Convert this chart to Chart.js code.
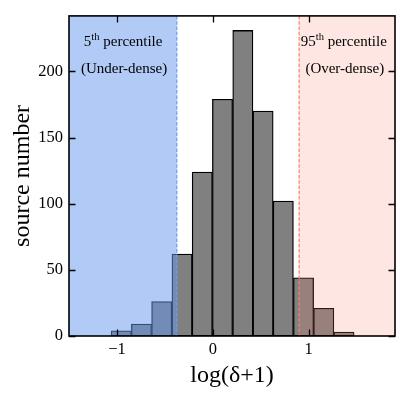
<!DOCTYPE html>
<html>
<head>
<meta charset="utf-8">
<script src="https://cdn.jsdelivr.net/npm/chart.js@4"></script>
<style>
  html, body { margin: 0; padding: 0; background: #fff; }
  #wrap { width: 406px; height: 398px; }
</style>
</head>
<body>
<div id="wrap"><canvas id="histo" width="406" height="398"></canvas></div>
<script>
// histogram bins (centres in log(delta+1)) and counts
const binCenters = [-0.955, -0.744, -0.533, -0.321, -0.110, 0.101, 0.313, 0.524, 0.735, 0.946, 1.157, 1.368];
const counts = [4, 9, 26, 62, 124, 179, 231, 170, 102, 44, 21, 3];

const xTicks = [-1, 0, 1];
const yTicks = [0, 50, 100, 150, 200];

// percentile cuts
const lowCut = -0.375;   // 5th
const highCut = 0.9;     // 95th

const SERIF = '"Liberation Serif", "DejaVu Serif", serif';

// shaded regions, dashed cut lines, framed box with inward ticks, labels
const decorPlugin = {
    id: 'decor',
    afterDatasetsDraw(chart) {
        const { ctx, chartArea: a, scales } = chart;
        const x = scales.x, y = scales.y;
        const xl = x.getPixelForValue(lowCut);
        const xr = x.getPixelForValue(highCut);
        const h = a.bottom - a.top;

        ctx.save();
        ctx.fillStyle = 'rgba(100, 149, 237, 0.5)';
        ctx.fillRect(a.left, a.top, xl - a.left, h);
        ctx.fillStyle = 'rgba(250, 128, 114, 0.2)';
        ctx.fillRect(xr, a.top, a.right - xr, h);

        ctx.setLineDash([3.5, 1.8]);
        ctx.lineWidth = 1.2;
        ctx.strokeStyle = '#6d9cf0';
        ctx.beginPath(); ctx.moveTo(xl, a.top); ctx.lineTo(xl, a.bottom); ctx.stroke();
        ctx.strokeStyle = '#f5806f';
        ctx.beginPath(); ctx.moveTo(xr, a.top); ctx.lineTo(xr, a.bottom); ctx.stroke();
        ctx.setLineDash([]);

        // inward ticks on all four sides
        ctx.strokeStyle = '#000';
        ctx.lineWidth = 1.3;
        const tl = 6.5;
        ctx.beginPath();
        xTicks.forEach(v => {
            const px = Math.round(x.getPixelForValue(v)) + 0.5;
            ctx.moveTo(px, a.bottom); ctx.lineTo(px, a.bottom - tl);
            ctx.moveTo(px, a.top); ctx.lineTo(px, a.top + tl);
        });
        yTicks.forEach(v => {
            const py = Math.round(y.getPixelForValue(v)) + 0.5;
            ctx.moveTo(a.left, py); ctx.lineTo(a.left + tl, py);
            ctx.moveTo(a.right, py); ctx.lineTo(a.right - tl, py);
        });
        ctx.stroke();

        ctx.lineWidth = 1.6;
        ctx.strokeRect(a.left, a.top, a.right - a.left, h);

        // annotations
        ctx.fillStyle = '#000';
        ctx.textBaseline = 'middle';
        const w = a.right - a.left;
        drawSup(ctx, '5', 'th', ' percentile', a.left + 0.166 * w, a.top + 26);
        drawSup(ctx, '95', 'th', ' percentile', a.left + 0.843 * w, a.top + 26);
        ctx.font = '15px ' + SERIF;
        ctx.textAlign = 'center';
        ctx.fillText('(Under-dense)', a.left + 0.169 * w, a.top + 53);
        ctx.fillText('(Over-dense)', a.left + 0.846 * w, a.top + 53);
        ctx.restore();
    }
};

function drawSup(ctx, base, sup, rest, cx, cy) {
    const big = '15px ' + SERIF, small = '10.5px ' + SERIF;
    ctx.font = big;
    const w1 = ctx.measureText(base).width;
    const w3 = ctx.measureText(rest).width;
    ctx.font = small;
    const w2 = ctx.measureText(sup).width;
    let px = cx - (w1 + w2 + w3) / 2;
    ctx.textAlign = 'left';
    ctx.font = big;
    ctx.fillText(base, px, cy);
    px += w1;
    ctx.font = small;
    ctx.fillText(sup, px, cy - 5);
    px += w2;
    ctx.font = big;
    ctx.fillText(rest, px, cy);
}

new Chart(document.getElementById('histo'), {
    type: 'bar',
    data: {
        datasets: [{
            data: binCenters.map((c, i) => ({ x: c, y: counts[i] })),
            backgroundColor: '#808080',
            borderColor: '#000000',
            borderWidth: 1.3,
            borderSkipped: false,
            barPercentage: 1,
            categoryPercentage: 1
        }]
    },
    plugins: [decorPlugin],
    options: {
        responsive: false,
        animation: false,
        devicePixelRatio: 1,
        layout: { padding: { top: 10, right: 11, left: 0, bottom: 0 } },
        plugins: { legend: { display: false }, tooltip: { enabled: false } },
        scales: {
            x: {
                type: 'linear',
                min: -1.5,
                max: 1.9,
                offset: false,
                grid: { display: false, drawTicks: false, offset: false },
                border: { display: false },
                afterBuildTicks: s => { s.ticks = xTicks.map(v => ({ value: v })); },
                afterFit: s => { s.height = 62; },
                ticks: {
                    autoSkip: false,
                    maxRotation: 0,
                    padding: 4,
                    color: '#000',
                    font: { family: SERIF, size: 16.5 },
                    callback: v => (v < 0 ? '\u2212' + Math.abs(v) : String(v))
                },
                title: {
                    display: true,
                    text: 'log(\u03b4+1)',
                    color: '#000',
                    font: { family: SERIF, size: 24 },
                    padding: { top: 0, bottom: 8 }
                }
            },
            y: {
                min: 0,
                max: 242,
                grid: { display: false, drawTicks: false },
                border: { display: false },
                afterBuildTicks: s => { s.ticks = yTicks.map(v => ({ value: v })); },
                afterFit: s => { s.width = 69; },
                ticks: {
                    padding: 6,
                    color: '#000',
                    font: { family: SERIF, size: 16.5 }
                },
                title: {
                    display: true,
                    text: 'source number',
                    color: '#000',
                    font: { family: SERIF, size: 24 },
                    padding: { top: 8, bottom: 0 }
                }
            }
        }
    }
});
</script>
</body>
</html>
